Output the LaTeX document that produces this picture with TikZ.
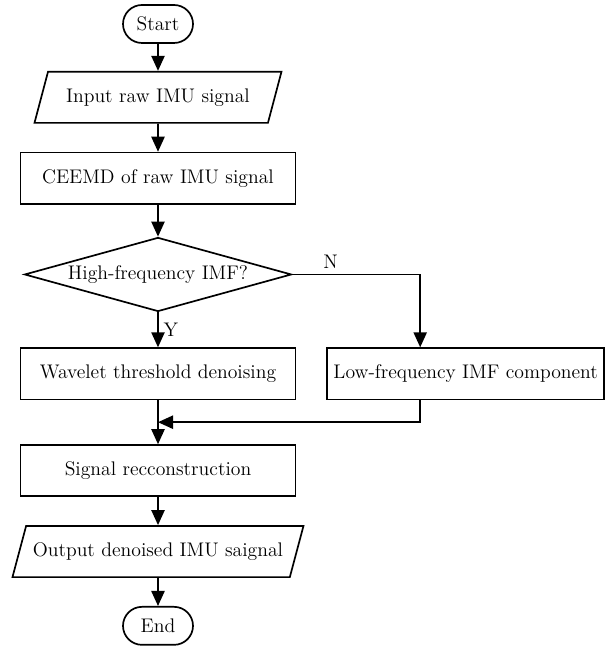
\documentclass[tikz,border=0pt]{standalone}
\usepackage{xcolor}
\usepackage{tikz}
\usetikzlibrary{shapes.geometric, arrows.meta, positioning}

\begin{document}
\begin{tikzpicture}
	[
		font=\fontsize{14}{16}\selectfont,
		line width=1.2pt,
		terminal/.style={draw, rectangle, rounded corners=0.475cm, minimum width=1.75cm, minimum height=0.95cm},
		process/.style={draw, rectangle, minimum width=6.875cm, minimum height=1.28cm},
		io/.style={draw, trapezium, trapezium left angle=63.4, trapezium right angle=116.6, trapezium stretches body, minimum height=1.28cm},
		decision/.style={draw, diamond, aspect=3.6, minimum width=6.675cm, minimum height=1.85cm, inner sep=0pt},
		flow/.style={-{Triangle[length=0.375cm, width=0.33cm]}}
	]
	\useasboundingbox (0,0) rectangle (15.2,-16.15);

	\node[terminal] (start) at (3.95,-0.6) {Start};
	\node[io, minimum width=6.175cm, below=0.675cm of start] (input) {Input raw IMU signal};
	\node[process, below=0.7cm of input] (ceemd) {CEEMD of raw IMU signal};
	\node[decision, below=0.8cm of ceemd] (highf) {High-frequency IMF?};
	\node[process, below=0.875cm of highf] (wavelet) {Wavelet threshold denoising};
	\node[process, minimum width=6.925cm, right=0.75cm of wavelet] (lowf) {Low-frequency IMF component};
	\node[process, below=1.1cm of wavelet] (recon) {Signal recconstruction};
	\node[io, minimum width=7.275cm, below=0.7cm of recon] (output) {Output denoised IMU saignal};
	\node[terminal, below=0.7cm of output] (end) {End};
	\coordinate[below=0.55cm of wavelet] (join);

	% main line
	\draw[flow] (start) -- (input);
	\draw[flow] (input) -- (ceemd);
	\draw[flow] (ceemd) -- (highf);
	\draw[flow] (highf) -- node[right] {Y} (wavelet);
	\draw[flow] (highf.east) -| node[pos=0.15, above] {N} ([xshift=-1.1375cm]lowf.north);
	\draw[flow] (wavelet) -- (recon);
	\draw[flow] ([xshift=-1.1375cm]lowf.south) |- (join);
	\draw[flow] (recon) -- (output);
	\draw[flow] (output) -- (end);
\end{tikzpicture}
\end{document}
